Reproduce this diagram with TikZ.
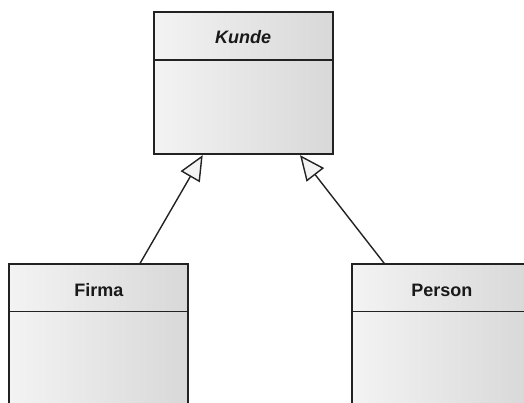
\documentclass[tikz,border=0pt]{standalone}
\usepackage{fontspec}
\setmainfont{Liberation Sans}
\usetikzlibrary{arrows.meta}
\definecolor{cA}{HTML}{F3F3F3}
\definecolor{cB}{HTML}{D8D8D8}
\definecolor{edge}{HTML}{222222}
\tikzset{
  classbox/.style={draw=edge, line width=1.7pt, rectangle, minimum width=179pt, minimum height=142.6pt,
    left color=cA, middle color=cA, right color=cB, inner sep=0pt},
  classname/.style={font=\fontsize{18}{20}\selectfont\bfseries, text=black!90, inner sep=0pt},
  divider/.style={draw=edge, line width=1.7pt},
  inherit/.style={draw=edge, line width=1.4pt,
    -{Triangle[length=25pt, width=22pt, fill=cA, line width=1.4pt]}}
}
\begin{document}
\begin{tikzpicture}[x=1pt, y=-1pt]
\useasboundingbox (0,0) rectangle (524,403);
\clip (0,0) rectangle (524,403);
% Kunde
\node[classbox] (kunde) at (243.2,83) {};
\draw[divider] (kunde.north west) ++(0,49) coordinate (kd) -- (kd -| kunde.east);
\node[classname, font=\fontsize{18}{20}\selectfont\bfseries\itshape] (kundename) at (243.2,37.5) {Kunde};
% Firma
\node[classbox] (firma) at (98.8,335.6) {};
\draw[divider] (firma.north west) ++(0,48) coordinate (fd) -- (fd -| firma.east);
\node[classname] (firmaname) at (98.8,290) {Firma};
% Person
\node[classbox] (person) at (441.8,335.6) {};
\draw[divider] (person.north west) ++(0,48) coordinate (pd) -- (pd -| person.east);
\node[classname] (personname) at (441.8,290) {Person};
% Generalisations
\draw[inherit] ([xshift=41.2pt]firma.north) -- ([xshift=-40.5pt]kunde.south);
\draw[inherit] ([xshift=-57.5pt]person.north) -- ([xshift=56.8pt]kunde.south);
\end{tikzpicture}
\end{document}
